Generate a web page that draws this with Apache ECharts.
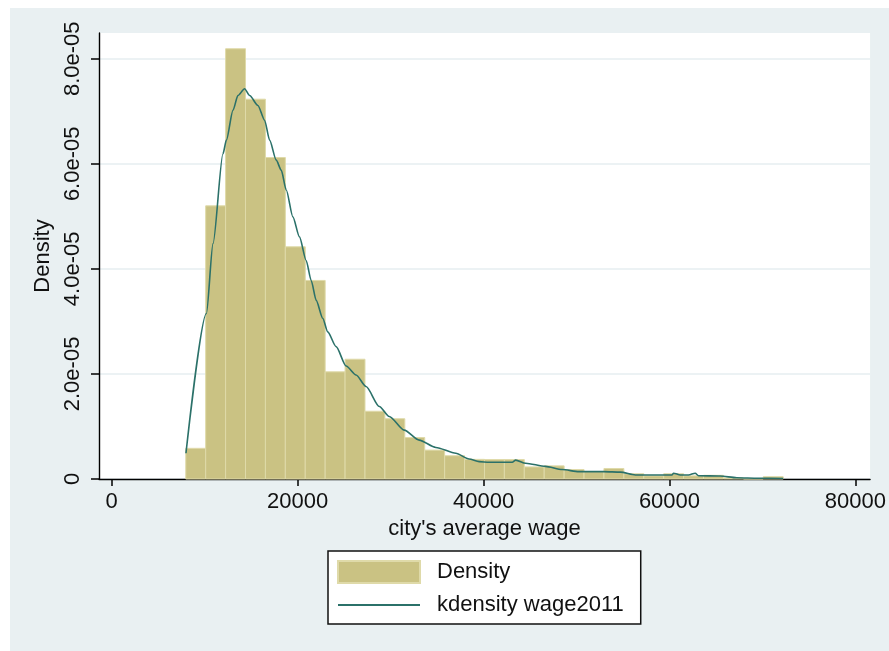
<!DOCTYPE html>
<html>
<head>
<meta charset="utf-8">
<script src="https://cdn.jsdelivr.net/npm/echarts@6/dist/echarts.min.js"></script>
<style>
  html, body { margin: 0; padding: 0; background: #ffffff; }
  #panel { position: absolute; left: 10px; top: 8px; width: 879px; height: 643px; background: #e9f0f2; }
</style>
</head>
<body>
<div id="panel"></div>
<script>
// Histogram of 2011 city average wages with a kernel density overlay.
const binStart = 7970;   // lower edge of the first bin
const binWidth = 2142;   // bin width
const densities = [
  5.84e-06, 5.20e-05, 8.19e-05, 7.23e-05, 6.12e-05, 4.42e-05, 3.78e-05, 2.04e-05,
  2.28e-05, 1.29e-05, 1.147e-05, 7.9e-06, 5.5e-06, 4.43e-06, 3.74e-06, 3.7e-06,
  3.7e-06, 2.3e-06, 2.5e-06, 1.8e-06, 1.4e-06, 2.0e-06, 1.0e-06, 6.0e-07,
  1.0e-06, 6.0e-07, 7.0e-07, 2.0e-07, 0, 4.4e-07
];

const kdensityX = [
  7990, 10190, 10900, 11970, 12340, 13050, 13580, 14300, 14840, 15730,
  16450, 16990, 17700, 18240, 18780, 19490, 20200, 20920, 21460, 22000,
  22700, 23240, 24140, 25220, 26290, 27360, 28790, 29860, 31470, 33080,
  34870, 37020, 38440, 39520, 40590, 43090, 43460, 44530, 46670, 48460,
  50250, 52930, 54720, 56330, 60260, 60440, 61160, 62050, 62770, 63120,
  65450, 67230, 69560, 72240
];
const kdensityY = [
  4.9e-06, 3.15e-05, 4.48e-05, 6.19e-05, 6.45e-05, 7.02e-05, 7.30e-05, 7.43e-05, 7.30e-05, 7.11e-05,
  6.83e-05, 6.45e-05, 6.07e-05, 5.88e-05, 5.50e-05, 4.99e-05, 4.61e-05, 4.16e-05, 3.78e-05, 3.40e-05,
  3.06e-05, 2.80e-05, 2.52e-05, 2.15e-05, 1.98e-05, 1.76e-05, 1.38e-05, 1.19e-05, 9.3e-06, 7.4e-06,
  6.0e-06, 4.9e-06, 3.8e-06, 3.3e-06, 3.2e-06, 3.2e-06, 3.6e-06, 3.0e-06, 2.4e-06, 1.8e-06,
  1.4e-06, 1.4e-06, 1.3e-06, 7.6e-07, 7.6e-07, 1.1e-06, 7.6e-07, 7.6e-07, 1.1e-06, 6.3e-07,
  5.7e-07, 2.5e-07, 1.5e-07, 1.0e-07
];

const xTickValues = [0, 20000, 40000, 60000, 80000];
const xTickLabels = ['0', '20000', '40000', '60000', '80000'];
const yTickValues = [0, 2e-05, 4e-05, 6e-05, 8e-05];
const yTickLabels = ['0', '2.0e-05', '4.0e-05', '6.0e-05', '8.0e-05'];

const seriesNames = ['Density', 'kdensity wage2011'];
const xTitle = "city's average wage";
const yTitle = 'Density';

const FONT = '"Liberation Sans", Arial, sans-serif';
const TEXT = '#111111';
const BAR_FILL = '#cac283';
const BAR_EDGE = '#dfdaa9';
const LINE_COLOR = '#2b7169';

const histData = densities.map((d, i) => [binStart + i * binWidth, binStart + (i + 1) * binWidth, d]);
const lineData = kdensityX.map((x, i) => [x, kdensityY[i]]);

function labelFor(values, labels) {
  return function (v) {
    for (let i = 0; i < values.length; i++) {
      if (Math.abs(values[i] - v) <= Math.abs(values[i]) * 1e-9 + 1e-15) return labels[i];
    }
    return '';
  };
}

const chart = echarts.init(document.getElementById('panel'), null, { renderer: 'canvas' });
chart.setOption({
  animation: false,
  backgroundColor: 'transparent',
  textStyle: { fontFamily: FONT, color: TEXT },
  grid: {
    left: 89, top: 25, right: 17, bottom: 172,
    show: true, backgroundColor: '#ffffff', borderWidth: 0
  },
  xAxis: {
    type: 'value',
    min: -1363, max: 81577,
    name: xTitle,
    nameLocation: 'middle',
    nameGap: 29,
    nameTextStyle: { fontSize: 22, color: TEXT, fontFamily: FONT },
    axisLine: { show: true, onZero: false, lineStyle: { color: '#000', width: 1.4 } },
    axisTick: { show: true, customValues: xTickValues, length: 7, lineStyle: { color: '#000', width: 1.5 } },
    axisLabel: {
      customValues: xTickValues,
      formatter: labelFor(xTickValues, xTickLabels),
      fontSize: 22, color: TEXT, fontFamily: FONT, margin: 12
    },
    splitLine: { show: false }
  },
  yAxis: {
    type: 'value',
    min: 0, max: 8.49e-05,
    name: yTitle,
    nameLocation: 'middle',
    nameRotate: 90,
    nameGap: 42,
    nameTextStyle: { fontSize: 22, color: TEXT, fontFamily: FONT },
    axisLine: { show: true, onZero: false, lineStyle: { color: '#000', width: 1.4 } },
    axisTick: { show: true, customValues: yTickValues, length: 8, lineStyle: { color: '#000', width: 1.5 } },
    axisLabel: {
      customValues: yTickValues,
      formatter: labelFor(yTickValues, yTickLabels),
      rotate: 90,
      fontSize: 22, color: TEXT, fontFamily: FONT, margin: 15
    },
    splitLine: { show: true, lineStyle: { color: '#e6eef0', width: 1.5 } }
  },
  legend: {
    orient: 'vertical',
    left: 318, top: 543,
    itemWidth: 82, itemHeight: 22, itemGap: 10,
    padding: [9, 17, 8, 9],
    borderColor: '#111', borderWidth: 1.5, borderRadius: 0,
    backgroundColor: '#ffffff',
    textStyle: { fontSize: 22, color: TEXT, fontFamily: FONT, padding: [0, 0, 0, 12] },
    data: [
      { name: seriesNames[0], icon: 'rect' },
      { name: seriesNames[1], itemStyle: { opacity: 0 } }
    ]
  },
  series: [
    {
      name: seriesNames[0],
      type: 'custom',
      data: histData,
      encode: { x: [0, 1], y: 2 },
      itemStyle: { color: BAR_FILL, borderColor: BAR_EDGE, borderWidth: 1 },
      renderItem: function (params, api) {
        const p0 = api.coord([api.value(0), api.value(2)]);
        const p1 = api.coord([api.value(1), 0]);
        return {
          type: 'rect',
          shape: { x: p0[0], y: p0[1], width: p1[0] - p0[0], height: p1[1] - p0[1] },
          style: { fill: BAR_FILL, stroke: BAR_EDGE, lineWidth: 1 }
        };
      },
      z: 2
    },
    {
      name: seriesNames[1],
      type: 'line',
      data: lineData,
      symbol: 'none',
      smooth: 0.25,
      smoothMonotone: 'x',
      lineStyle: { color: LINE_COLOR, width: 1.6 },
      itemStyle: { color: LINE_COLOR },
      z: 3
    }
  ]
});
</script>
</body>
</html>
